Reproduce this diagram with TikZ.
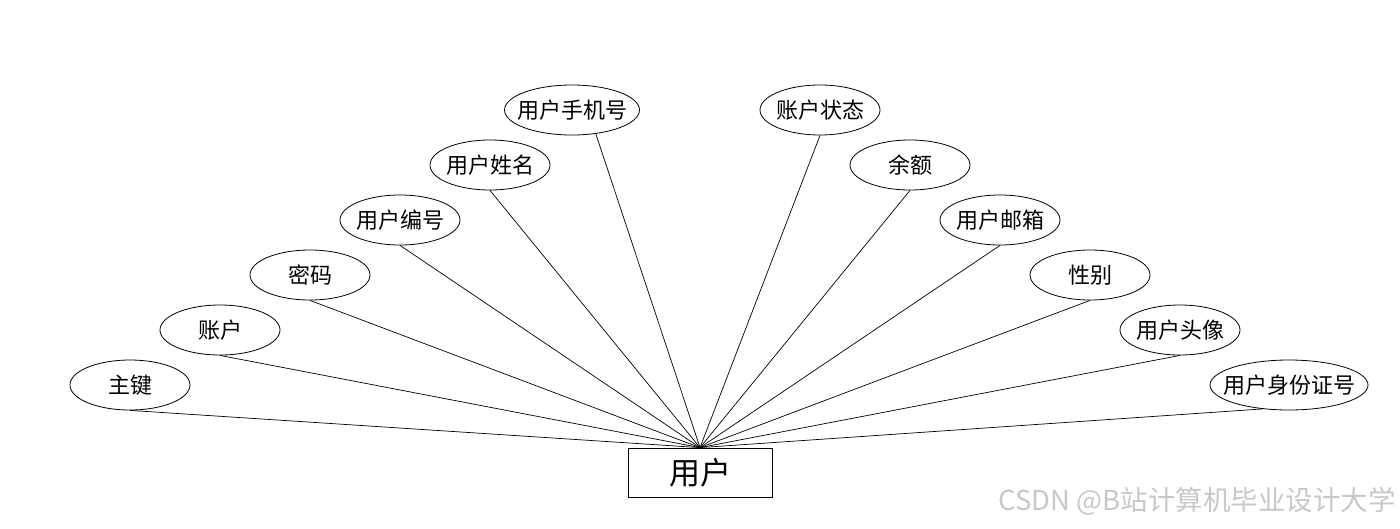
\documentclass[tikz,border=0pt]{standalone}
\usepackage{fontspec}
\setmainfont{Noto Sans CJK SC}
\usetikzlibrary{shapes.geometric}
\definecolor{marca}{RGB}{200,200,200}
\tikzset{
  attr/.style={draw, ellipse, line width=0.8pt, minimum width=120, minimum height=50, inner xsep=-20pt, inner ysep=0pt, font=\fontsize{22}{24}\selectfont},
  ent/.style={draw, rectangle, line width=0.8pt, minimum width=144, minimum height=49, inner sep=0pt, font=\fontsize{31}{34}\selectfont},
  lnk/.style={line width=0.7pt},
}
\begin{document}
\begin{tikzpicture}[x=1pt,y=-1pt]
  \useasboundingbox (0,0) rectangle (1400,528);
  % entity
  \node[ent] (yh) at (700,472.5) {用户};
  % left side attributes
  \node[attr] (zj) at (130,385) {主键};
  \node[attr] (zh) at (220,330) {账户};
  \node[attr] (mm) at (310,275) {密码};
  \node[attr] (bh) at (400,220) {用户编号};
  \node[attr] (xm) at (490,165) {用户姓名};
  \node[attr, minimum width=135] (sjh) at (572,110) {用户手机号};
  % right side attributes
  \node[attr] (zt) at (820,110) {账户状态};
  \node[attr] (ye) at (910,165) {余额};
  \node[attr] (yx) at (1000,220) {用户邮箱};
  \node[attr] (xb) at (1090,275) {性别};
  \node[attr] (tx) at (1180,330) {用户头像};
  \node[attr, minimum width=158] (sfz) at (1289,385) {用户身份证号};
  % links
  \foreach \a in {zj,zh,mm,bh,xm,zt,ye,yx,xb,tx}
    \draw[lnk] (\a.south) -- (yh.north);
  \draw[lnk] (sjh.-45) -- (yh.north);
  \draw[lnk] (sfz.-138) -- (yh.north);
  \node[anchor=east, text=marca, inner sep=0pt, font=\fontsize{27.5}{29}\selectfont] (wm) at (1396,501) {CSDN @B站计算机毕业设计大学};
\end{tikzpicture}
\end{document}
